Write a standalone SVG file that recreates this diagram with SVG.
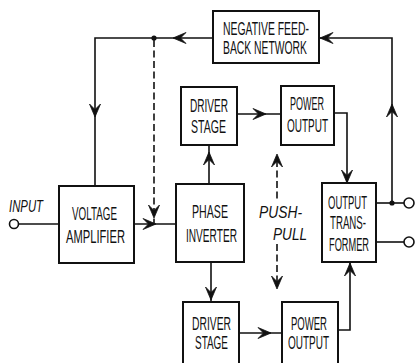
<svg xmlns="http://www.w3.org/2000/svg" xmlns:xlink="http://www.w3.org/1999/xlink" width="419" height="363" viewBox="0 0 419 363">
<style>
.box{fill:#fff;stroke:#111;stroke-width:2}
.ln{fill:none;stroke:#111;stroke-width:1.6}
.dash{fill:none;stroke:#111;stroke-width:1.6;stroke-dasharray:7 3.5}
.ah{fill:#111;stroke:#111;stroke-width:0.8;stroke-linejoin:miter}
.term{fill:#fff;stroke:#111;stroke-width:1.6}
.t{font-family:"Liberation Sans Narrow","Liberation Sans",Arial,sans-serif;font-size:19px;fill:#111}
.ti{font-family:"Liberation Sans Narrow","Liberation Sans",Arial,sans-serif;font-size:17px;font-style:italic;fill:#111}
</style>
<defs>
<path id="ah" d="M0,0 L-13,-5.5 L-7.5,0 L-13,5.5 Z"/>
</defs>
<rect width="419" height="363" fill="#fff"/>

<g id="connectors">
<polyline class="ln" points="392,203 392,38 319,38"/>
<polyline class="ln" points="213,38 95,38 95,186"/>
<circle cx="154" cy="38" r="2.6" fill="#111"/>
<line class="dash" x1="154" y1="40" x2="154" y2="223"/>
<use href="#ah" class="ah" transform="translate(320,38) rotate(180)"/>
<use href="#ah" class="ah" transform="translate(392,104) rotate(-90)"/>
<use href="#ah" class="ah" transform="translate(173,38) rotate(180)"/>
<use href="#ah" class="ah" transform="translate(95,117) rotate(90)"/>
<use href="#ah" class="ah" transform="translate(154,218) rotate(90)"/>
<line class="ln" x1="18.5" y1="224" x2="59" y2="224"/>
<line class="ln" x1="134" y1="224" x2="176" y2="224"/>
<use href="#ah" class="ah" transform="translate(156,224)"/>
<line class="ln" x1="209" y1="184" x2="209" y2="145"/>
<use href="#ah" class="ah" transform="translate(209,152) rotate(-90)"/>
<line class="ln" x1="211" y1="262" x2="211" y2="302"/>
<use href="#ah" class="ah" transform="translate(211,300) rotate(90)"/>
<line class="ln" x1="237" y1="114" x2="281" y2="114"/>
<use href="#ah" class="ah" transform="translate(266,114)"/>
<line class="ln" x1="239" y1="333" x2="282" y2="333"/>
<use href="#ah" class="ah" transform="translate(271,333)"/>
<polyline class="ln" points="334,113 347,113 347,183"/>
<use href="#ah" class="ah" transform="translate(347,183) rotate(90)"/>
<polyline class="ln" points="338,330 350,330 350,262"/>
<use href="#ah" class="ah" transform="translate(350,263) rotate(-90)"/>
<line class="ln" x1="376" y1="203" x2="404" y2="203"/>
<line class="ln" x1="376" y1="242" x2="404" y2="242"/>
<circle cx="392" cy="203" r="2.6" fill="#111"/>
<line class="dash" x1="277" y1="160" x2="277" y2="199"/>
<line class="dash" x1="277" y1="244" x2="277" y2="283"/>
<use href="#ah" class="ah" transform="translate(277,154) rotate(-90)"/>
<use href="#ah" class="ah" transform="translate(277,289) rotate(90)"/>
</g>

<g id="input">
<circle class="term" cx="14" cy="224" r="4.5"/>
<text class="ti" x="9" y="212" textLength="34" lengthAdjust="spacingAndGlyphs">INPUT</text>
</g>

<g id="feedback">
<rect class="box" x="213" y="11" width="106" height="52"/>
<text class="t" x="223" y="35" textLength="86" lengthAdjust="spacingAndGlyphs">NEGATIVE FEED-</text>
<text class="t" x="223" y="54" textLength="84" lengthAdjust="spacingAndGlyphs">BACK NETWORK</text>
</g>

<g id="voltage-amplifier">
<rect class="box" x="59" y="186" width="75" height="77"/>
<text class="t" x="72" y="220" textLength="45" lengthAdjust="spacingAndGlyphs">VOLTAGE</text>
<text class="t" x="66" y="243" textLength="59" lengthAdjust="spacingAndGlyphs">AMPLIFIER</text>
</g>

<g id="phase-inverter">
<rect class="box" x="176" y="184" width="68" height="78"/>
<text class="t" x="192" y="218" textLength="36" lengthAdjust="spacingAndGlyphs">PHASE</text>
<text class="t" x="186" y="242" textLength="51" lengthAdjust="spacingAndGlyphs">INVERTER</text>
</g>

<g id="driver-top">
<rect class="box" x="181" y="87" width="56" height="58"/>
<text class="t" x="190" y="112" textLength="38" lengthAdjust="spacingAndGlyphs">DRIVER</text>
<text class="t" x="191" y="133" textLength="35" lengthAdjust="spacingAndGlyphs">STAGE</text>
</g>

<g id="power-top">
<rect class="box" x="281" y="86" width="53" height="59"/>
<text class="t" x="290" y="110" textLength="34" lengthAdjust="spacingAndGlyphs">POWER</text>
<text class="t" x="287" y="132" textLength="41" lengthAdjust="spacingAndGlyphs">OUTPUT</text>
</g>

<g id="push-pull">
<text class="ti" x="259" y="218" textLength="43" lengthAdjust="spacingAndGlyphs">PUSH-</text>
<text class="ti" x="273" y="240" textLength="34" lengthAdjust="spacingAndGlyphs">PULL</text>
</g>

<g id="output-transformer">
<rect class="box" x="322" y="183" width="54" height="79"/>
<text class="t" x="328" y="209" textLength="39" lengthAdjust="spacingAndGlyphs">OUTPUT</text>
<text class="t" x="330" y="229" textLength="36" lengthAdjust="spacingAndGlyphs">TRANS-</text>
<text class="t" x="329" y="251" textLength="40" lengthAdjust="spacingAndGlyphs">FORMER</text>
<circle class="term" cx="409" cy="203" r="5"/>
<circle class="term" cx="409" cy="242" r="5"/>
</g>

<g id="driver-bottom">
<rect class="box" x="183" y="302" width="56" height="66"/>
<text class="t" x="192" y="330" textLength="39" lengthAdjust="spacingAndGlyphs">DRIVER</text>
<text class="t" x="195" y="349" textLength="33" lengthAdjust="spacingAndGlyphs">STAGE</text>
</g>

<g id="power-bottom">
<rect class="box" x="282" y="302" width="56" height="66"/>
<text class="t" x="291" y="330" textLength="36" lengthAdjust="spacingAndGlyphs">POWER</text>
<text class="t" x="288" y="349" textLength="41" lengthAdjust="spacingAndGlyphs">OUTPUT</text>
</g>
</svg>
